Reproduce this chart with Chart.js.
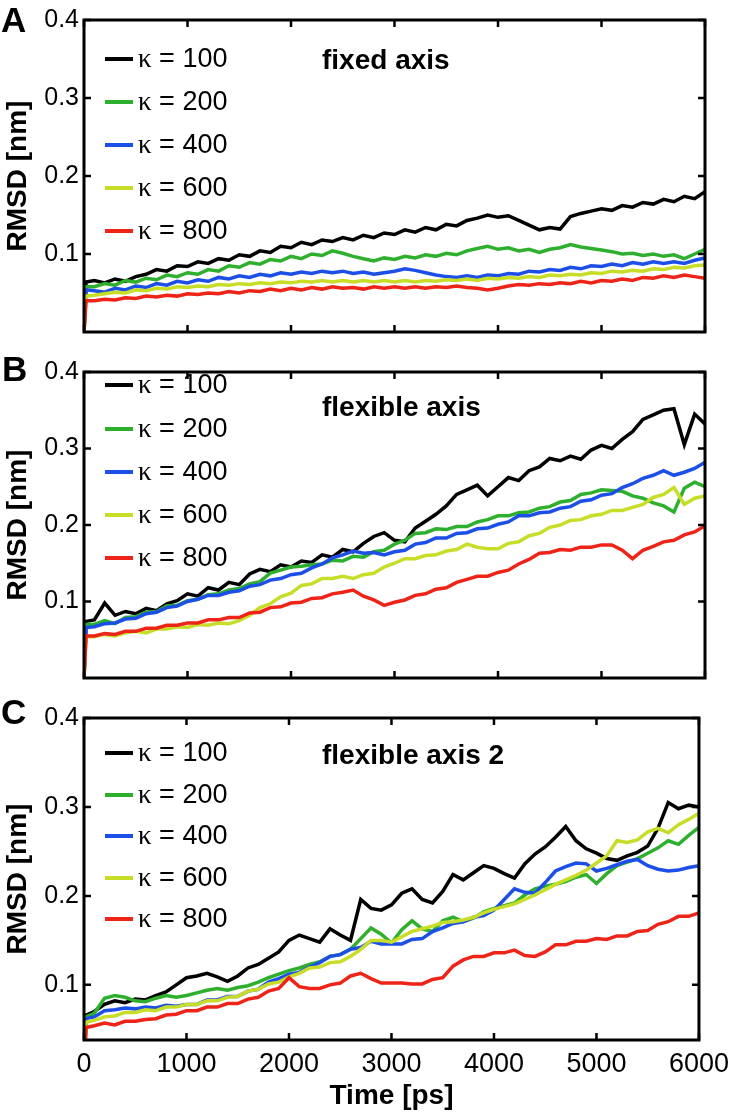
<!DOCTYPE html>
<html>
<head>
<meta charset="utf-8">
<script src="https://cdn.jsdelivr.net/npm/chart.js@4.4.1/dist/chart.umd.min.js"></script>
<style>
  body {
    margin: 0;
    background: #fff;
    width: 737px;
    height: 1119px;
    position: relative;
    overflow: hidden;
    font-family: "Liberation Sans", Arial, sans-serif;
    color: #000;
  }
  canvas { position: absolute; left: 0; }
  .letter { position: absolute; font-weight: bold; font-size: 35px; line-height: 34px; }
  .title { position: absolute; left: 322px; font-weight: bold; font-size: 28px; line-height: 28px; white-space: nowrap; }
  .legend-row { position: absolute; left: 105px; height: 0; white-space: nowrap; }
  .swatch { position: absolute; left: 0; top: -2px; width: 28px; height: 4px; }
  .legend-label { position: absolute; left: 33px; top: -16px; font-size: 27px; line-height: 31px; }
  .kappa { font-family: "Liberation Serif", serif; }
</style>
</head>
<body>
<canvas id="chart-a" width="737" height="352" style="top:0px"></canvas>
<canvas id="chart-b" width="737" height="346" style="top:352px"></canvas>
<canvas id="chart-c" width="737" height="421" style="top:698px"></canvas>

<div class="letter" style="left:1px; top:3px">A</div>
<div class="letter" style="left:2px; top:352px">B</div>
<div class="letter" style="left:1px; top:695px">C</div>

<div class="title" style="top:46px">fixed axis</div>
<div class="title" style="top:393px">flexible axis</div>
<div class="title" style="top:741px">flexible axis 2</div>

<div id="legends"></div>

<script>
// Time points (ps)
const timePs = [0, 20,
  100, 200, 300, 400, 500, 600, 700, 800, 900, 1000,
  1100, 1200, 1300, 1400, 1500, 1600, 1700, 1800, 1900, 2000,
  2100, 2200, 2300, 2400, 2500, 2600, 2700, 2800, 2900, 3000,
  3100, 3200, 3300, 3400, 3500, 3600, 3700, 3800, 3900, 4000,
  4100, 4200, 4300, 4400, 4500, 4600, 4700, 4800, 4900, 5000,
  5100, 5200, 5300, 5400, 5500, 5600, 5700, 5800, 5900, 6000];

const kappaValues = [100, 200, 400, 600, 800];
const xTicks = [0, 1000, 2000, 3000, 4000, 5000, 6000];
const yTicks = [0.1, 0.2, 0.3, 0.4];

// Panel A - fixed axis, RMSD [nm]
const fixedK100 = [0, 0.064,
  0.066, 0.063, 0.068, 0.065, 0.071, 0.074, 0.080, 0.078, 0.085, 0.084,
  0.090, 0.088, 0.094, 0.092, 0.099, 0.097, 0.104, 0.102, 0.110, 0.108,
  0.115, 0.112, 0.118, 0.116, 0.121, 0.118, 0.124, 0.121, 0.127, 0.125,
  0.131, 0.128, 0.134, 0.131, 0.138, 0.136, 0.143, 0.146, 0.150, 0.147,
  0.149, 0.143, 0.137, 0.131, 0.134, 0.132, 0.148, 0.152, 0.155, 0.158,
  0.156, 0.162, 0.160, 0.166, 0.164, 0.170, 0.167, 0.174, 0.171, 0.180];
const fixedK200 = [0, 0.058,
  0.058, 0.062, 0.060, 0.066, 0.064, 0.069, 0.067, 0.073, 0.071, 0.076,
  0.074, 0.080, 0.078, 0.085, 0.083, 0.089, 0.087, 0.093, 0.091, 0.097,
  0.094, 0.100, 0.098, 0.104, 0.101, 0.097, 0.094, 0.091, 0.095, 0.093,
  0.097, 0.095, 0.099, 0.097, 0.101, 0.099, 0.104, 0.107, 0.110, 0.106,
  0.108, 0.104, 0.106, 0.102, 0.106, 0.108, 0.112, 0.109, 0.107, 0.105,
  0.103, 0.100, 0.101, 0.098, 0.100, 0.097, 0.099, 0.094, 0.100, 0.106];
const fixedK400 = [0, 0.054,
  0.053, 0.051, 0.056, 0.054, 0.059, 0.057, 0.062, 0.060, 0.065, 0.063,
  0.067, 0.065, 0.070, 0.068, 0.072, 0.070, 0.074, 0.072, 0.076, 0.074,
  0.077, 0.075, 0.078, 0.076, 0.078, 0.075, 0.077, 0.074, 0.076, 0.078,
  0.081, 0.079, 0.076, 0.073, 0.071, 0.070, 0.072, 0.070, 0.073, 0.072,
  0.075, 0.074, 0.078, 0.077, 0.080, 0.079, 0.083, 0.081, 0.085, 0.084,
  0.087, 0.085, 0.089, 0.087, 0.090, 0.088, 0.090, 0.088, 0.092, 0.095];
const fixedK600 = [0, 0.046,
  0.047, 0.049, 0.051, 0.050, 0.054, 0.053, 0.056, 0.055, 0.058, 0.057,
  0.059, 0.058, 0.061, 0.060, 0.062, 0.061, 0.063, 0.062, 0.064, 0.063,
  0.065, 0.064, 0.066, 0.064, 0.066, 0.064, 0.066, 0.064, 0.066, 0.064,
  0.066, 0.064, 0.066, 0.065, 0.067, 0.066, 0.068, 0.066, 0.069, 0.068,
  0.070, 0.069, 0.071, 0.070, 0.073, 0.072, 0.074, 0.073, 0.076, 0.075,
  0.078, 0.077, 0.079, 0.078, 0.081, 0.080, 0.083, 0.082, 0.085, 0.086];
const fixedK800 = [0, 0.040,
  0.040, 0.042, 0.041, 0.044, 0.043, 0.046, 0.045, 0.047, 0.046, 0.049,
  0.048, 0.050, 0.049, 0.052, 0.050, 0.053, 0.052, 0.055, 0.053, 0.056,
  0.054, 0.057, 0.055, 0.058, 0.056, 0.057, 0.055, 0.058, 0.056, 0.058,
  0.056, 0.058, 0.056, 0.058, 0.057, 0.059, 0.057, 0.056, 0.054, 0.056,
  0.059, 0.061, 0.060, 0.062, 0.061, 0.063, 0.062, 0.065, 0.063, 0.066,
  0.065, 0.068, 0.066, 0.070, 0.069, 0.072, 0.070, 0.073, 0.071, 0.069];

// Panel B - flexible axis
const flexK100 = [0, 0.074,
  0.076, 0.098, 0.082, 0.087, 0.084, 0.091, 0.088, 0.097, 0.101, 0.110,
  0.107, 0.118, 0.115, 0.125, 0.122, 0.136, 0.142, 0.139, 0.148, 0.145,
  0.153, 0.151, 0.161, 0.158, 0.168, 0.165, 0.176, 0.185, 0.190, 0.180,
  0.178, 0.196, 0.205, 0.214, 0.225, 0.240, 0.246, 0.252, 0.238, 0.250,
  0.262, 0.258, 0.271, 0.276, 0.287, 0.284, 0.290, 0.286, 0.298, 0.304,
  0.300, 0.312, 0.322, 0.338, 0.344, 0.350, 0.352, 0.305, 0.345, 0.332];
const flexK200 = [0, 0.070,
  0.070, 0.075, 0.071, 0.079, 0.080, 0.086, 0.087, 0.094, 0.095, 0.101,
  0.103, 0.109, 0.110, 0.115, 0.117, 0.123, 0.126, 0.137, 0.141, 0.145,
  0.146, 0.148, 0.149, 0.154, 0.153, 0.159, 0.158, 0.165, 0.167, 0.175,
  0.180, 0.189, 0.190, 0.195, 0.194, 0.198, 0.198, 0.204, 0.207, 0.212,
  0.212, 0.216, 0.217, 0.222, 0.224, 0.230, 0.232, 0.240, 0.242, 0.246,
  0.245, 0.244, 0.238, 0.235, 0.229, 0.225, 0.217, 0.248, 0.256, 0.250];
const flexK400 = [0, 0.066,
  0.067, 0.071, 0.072, 0.077, 0.078, 0.084, 0.086, 0.092, 0.094, 0.100,
  0.103, 0.108, 0.108, 0.112, 0.114, 0.120, 0.122, 0.128, 0.130, 0.135,
  0.137, 0.144, 0.149, 0.157, 0.161, 0.166, 0.163, 0.164, 0.161, 0.165,
  0.167, 0.175, 0.177, 0.183, 0.183, 0.189, 0.190, 0.195, 0.196, 0.201,
  0.204, 0.212, 0.212, 0.216, 0.217, 0.222, 0.224, 0.231, 0.233, 0.239,
  0.241, 0.249, 0.254, 0.261, 0.265, 0.271, 0.265, 0.269, 0.274, 0.282];
const flexK600 = [0, 0.054,
  0.054, 0.057, 0.055, 0.059, 0.061, 0.059, 0.064, 0.064, 0.067, 0.066,
  0.070, 0.069, 0.072, 0.071, 0.075, 0.082, 0.092, 0.097, 0.106, 0.111,
  0.121, 0.123, 0.130, 0.130, 0.133, 0.130, 0.135, 0.137, 0.145, 0.150,
  0.156, 0.156, 0.160, 0.161, 0.166, 0.168, 0.175, 0.171, 0.169, 0.169,
  0.176, 0.178, 0.186, 0.189, 0.197, 0.200, 0.206, 0.207, 0.212, 0.214,
  0.219, 0.219, 0.223, 0.227, 0.236, 0.240, 0.249, 0.227, 0.235, 0.238];
const flexK800 = [0, 0.055,
  0.055, 0.058, 0.057, 0.061, 0.061, 0.065, 0.065, 0.069, 0.069, 0.072,
  0.072, 0.076, 0.076, 0.079, 0.079, 0.085, 0.086, 0.092, 0.093, 0.098,
  0.099, 0.104, 0.105, 0.110, 0.112, 0.115, 0.107, 0.102, 0.095, 0.099,
  0.102, 0.108, 0.110, 0.116, 0.118, 0.125, 0.129, 0.133, 0.133, 0.138,
  0.141, 0.149, 0.155, 0.163, 0.164, 0.168, 0.167, 0.171, 0.171, 0.174,
  0.174, 0.167, 0.156, 0.167, 0.172, 0.178, 0.180, 0.187, 0.191, 0.199];

// Panel C - flexible axis 2
const flex2K100 = [0, 0.066,
  0.070, 0.078, 0.082, 0.080, 0.084, 0.083, 0.088, 0.092, 0.100, 0.108,
  0.110, 0.113, 0.109, 0.104, 0.110, 0.119, 0.123, 0.130, 0.137, 0.150,
  0.156, 0.152, 0.148, 0.163, 0.156, 0.150, 0.196, 0.186, 0.184, 0.190,
  0.203, 0.208, 0.196, 0.192, 0.205, 0.224, 0.218, 0.226, 0.234, 0.231,
  0.225, 0.220, 0.236, 0.247, 0.255, 0.266, 0.278, 0.262, 0.253, 0.248,
  0.242, 0.240, 0.245, 0.249, 0.256, 0.276, 0.305, 0.298, 0.302, 0.300];
const flex2K200 = [0, 0.064,
  0.068, 0.085, 0.088, 0.086, 0.082, 0.081, 0.085, 0.088, 0.086, 0.088,
  0.091, 0.094, 0.096, 0.094, 0.097, 0.099, 0.103, 0.108, 0.112, 0.116,
  0.119, 0.123, 0.126, 0.132, 0.134, 0.140, 0.152, 0.164, 0.157, 0.147,
  0.162, 0.172, 0.163, 0.160, 0.172, 0.176, 0.171, 0.175, 0.182, 0.186,
  0.189, 0.192, 0.201, 0.208, 0.211, 0.213, 0.216, 0.221, 0.224, 0.214,
  0.225, 0.234, 0.238, 0.242, 0.248, 0.254, 0.262, 0.258, 0.268, 0.277];
const flex2K400 = [0, 0.062,
  0.064, 0.071, 0.072, 0.074, 0.073, 0.075, 0.074, 0.077, 0.076, 0.078,
  0.078, 0.083, 0.083, 0.087, 0.087, 0.093, 0.095, 0.103, 0.107, 0.112,
  0.114, 0.120, 0.125, 0.132, 0.134, 0.140, 0.142, 0.149, 0.146, 0.146,
  0.146, 0.151, 0.152, 0.160, 0.164, 0.169, 0.171, 0.176, 0.178, 0.184,
  0.196, 0.208, 0.204, 0.203, 0.215, 0.228, 0.233, 0.237, 0.236, 0.228,
  0.231, 0.235, 0.239, 0.241, 0.234, 0.230, 0.228, 0.229, 0.232, 0.234];
const flex2K600 = [0, 0.058,
  0.060, 0.064, 0.065, 0.069, 0.069, 0.072, 0.071, 0.075, 0.075, 0.078,
  0.078, 0.082, 0.082, 0.086, 0.087, 0.093, 0.095, 0.101, 0.103, 0.109,
  0.113, 0.119, 0.120, 0.125, 0.126, 0.132, 0.140, 0.150, 0.150, 0.148,
  0.154, 0.160, 0.163, 0.166, 0.170, 0.171, 0.173, 0.176, 0.181, 0.185,
  0.188, 0.191, 0.196, 0.201, 0.207, 0.213, 0.218, 0.223, 0.229, 0.237,
  0.245, 0.262, 0.260, 0.263, 0.272, 0.276, 0.271, 0.280, 0.286, 0.293];
const flex2K800 = [0, 0.052,
  0.054, 0.057, 0.055, 0.059, 0.059, 0.061, 0.062, 0.066, 0.067, 0.071,
  0.071, 0.075, 0.075, 0.079, 0.079, 0.084, 0.086, 0.093, 0.096, 0.108,
  0.098, 0.096, 0.096, 0.100, 0.102, 0.110, 0.113, 0.107, 0.102, 0.102,
  0.102, 0.101, 0.101, 0.106, 0.108, 0.121, 0.128, 0.132, 0.132, 0.136,
  0.136, 0.139, 0.133, 0.132, 0.137, 0.145, 0.145, 0.149, 0.149, 0.152,
  0.151, 0.155, 0.155, 0.160, 0.161, 0.168, 0.171, 0.177, 0.177, 0.181];

// Line colours (black, green, blue, yellow-green, red)
const lineColors = ["#000000", "#2eb02e", "#1c4ee8", "#c8dd28", "#ee2418"];

Chart.defaults.font.family = '"Liberation Sans", Arial, sans-serif';
Chart.defaults.color = "#000";

// Frame with inward tick marks, like the original plot
const framePlugin = {
  id: "frame",
  afterDatasetsDraw(chart) {
    const { ctx, chartArea: a, scales } = chart;
    const tickLen = 7;
    ctx.save();
    ctx.strokeStyle = "#000";
    ctx.lineWidth = 3;
    ctx.strokeRect(a.left, a.top, a.right - a.left, a.bottom - a.top);
    ctx.lineWidth = 2.5;
    ctx.beginPath();
    scales.x.ticks.forEach((t) => {
      const px = scales.x.getPixelForValue(t.value);
      ctx.moveTo(px, a.bottom);
      ctx.lineTo(px, a.bottom - tickLen);
      ctx.moveTo(px, a.top);
      ctx.lineTo(px, a.top + tickLen);
    });
    scales.y.ticks.forEach((t) => {
      const py = scales.y.getPixelForValue(t.value);
      ctx.moveTo(a.left, py);
      ctx.lineTo(a.left + tickLen, py);
      ctx.moveTo(a.right, py);
      ctx.lineTo(a.right - tickLen, py);
    });
    ctx.stroke();
    ctx.restore();
  },
};

// Build the five κ datasets for one panel
function buildDatasets(seriesList) {
  return seriesList.map((values, i) => ({
    label: `κ = ${kappaValues[i]}`,
    data: values.map((v, j) => ({ x: timePs[j], y: v })),
    borderColor: lineColors[i],
    backgroundColor: lineColors[i],
    borderWidth: 3.5,
    pointRadius: 0,
    tension: 0,
    order: seriesList.length - i, // red drawn last (on top)
  }));
}

function makeChart(canvasId, seriesList, yMin, padding, isBottom) {
  return new Chart(document.getElementById(canvasId), {
    type: "line",
    data: { datasets: buildDatasets(seriesList) },
    options: {
      responsive: false,
      animation: false,
      layout: { padding },
      plugins: { legend: { display: false }, tooltip: { enabled: false } },
      scales: {
        x: {
          type: "linear",
          min: 0,
          max: 6000,
          afterBuildTicks: (axis) => {
            axis.ticks = xTicks.map((v) => ({ value: v }));
          },
          grid: { display: false, drawTicks: false },
          border: { display: false },
          ticks: {
            display: isBottom,
            padding: 8,
            maxRotation: 0,
            font: { size: 27 },
            callback: (v) => String(v),
          },
          title: {
            display: isBottom,
            text: "Time [ps]",
            font: { size: 28, weight: "bold" },
            padding: { top: 0, bottom: 6 },
          },
          afterFit: (axis) => {
            if (isBottom) axis.height = 79;
          },
        },
        y: {
          type: "linear",
          min: yMin,
          max: 0.4,
          afterBuildTicks: (axis) => {
            axis.ticks = yTicks.map((v) => ({ value: v }));
          },
          grid: { display: false, drawTicks: false },
          border: { display: false },
          ticks: {
            padding: 5,
            font: { size: 25 },
            callback: (v) => v.toFixed(1),
          },
          title: {
            display: true,
            text: "RMSD [nm]",
            font: { size: 28, weight: "bold" },
            padding: { top: 1, bottom: 0 },
          },
          afterFit: (axis) => {
            axis.width = 84;
          },
        },
      },
    },
    plugins: [framePlugin],
  });
}

makeChart("chart-a", [fixedK100, fixedK200, fixedK400, fixedK600, fixedK800], 0,
  { top: 16, right: 32, bottom: 3, left: 0 }, false);
makeChart("chart-b", [flexK100, flexK200, flexK400, flexK600, flexK800], 0,
  { top: 7, right: 32, bottom: 3, left: 0 }, false);
makeChart("chart-c", [flex2K100, flex2K200, flex2K400, flex2K600, flex2K800], 0.038,
  { top: 6, right: 32, bottom: 0, left: 0 }, true);

// Legends (inside each panel, top-left)
const legendRowsY = [
  [59, 102, 145, 188, 231],
  [385, 429, 472, 515, 558],
  [753, 795, 836, 878, 919],
];
const legendsEl = document.getElementById("legends");
legendRowsY.forEach((rows) => {
  rows.forEach((y, i) => {
    const row = document.createElement("div");
    row.className = "legend-row";
    row.style.top = `${y}px`;
    row.innerHTML = `
      <div class="swatch" style="background:${lineColors[i]}"></div>
      <div class="legend-label"><span class="kappa">κ</span> = ${kappaValues[i]}</div>`;
    legendsEl.appendChild(row);
  });
});
</script>
</body>
</html>
